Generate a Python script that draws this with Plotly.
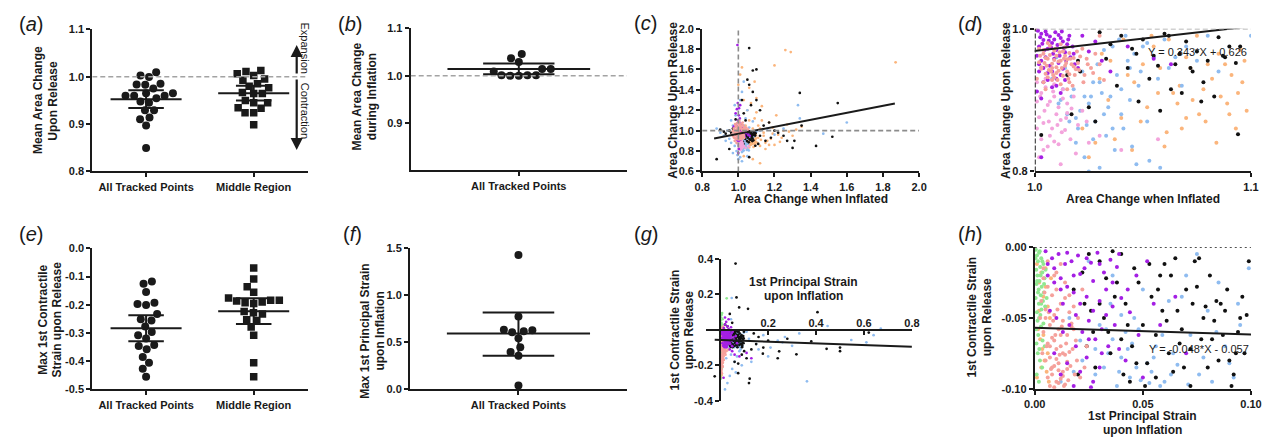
import plotly.graph_objects as go

W, H = 1278, 446
FONT = "Liberation Sans, Arial, Helvetica, sans-serif"
INK = "#1a1a1a"

# ---------------- dot-plot data ----------------
CATS_TWO = ["All Tracked Points", "Middle Region"]
CATS_ONE = ["All Tracked Points"]

# (a) mean area change upon release
A_ALL = [1.0027, 0.9993, 1.0095, 0.9837, 0.9830, 0.9850, 0.9750, 0.9600, 0.9600, 0.9650,
         0.9600, 0.9650, 0.9450, 0.9545, 0.9476, 0.9290, 0.9290, 0.9100, 0.9136, 0.8970, 0.8496]
A_MID = [1.0109, 1.0061, 1.0129, 1.0027, 0.9952, 0.9925, 0.9850, 0.9769, 0.9800, 0.9646,
         0.9646, 0.9667, 0.9497, 0.9450, 0.9450, 0.9347, 0.9333, 0.9238, 0.9238, 0.8986]
A_MEAN = [0.9524, 0.9650]
A_LO = [0.9340, 0.9497]
A_HI = [0.9714, 0.9810]

# (b) mean area change during inflation
B_ALL = [1.037, 1.029, 1.046, 1.014, 1.014, 1.009, 1.001, 1.000, 1.000, 1.001, 1.001]
B_MEAN = [1.014]
B_LO = [1.003]
B_HI = [1.026]

# (e) max 1st contractile strain upon release
E_ALL = [-0.126, -0.118, -0.155, -0.193, -0.201, -0.197, -0.233, -0.251, -0.256, -0.277,
         -0.308, -0.297, -0.320, -0.343, -0.358, -0.346, -0.385, -0.406, -0.427, -0.455]
E_MID = [-0.070, -0.109, -0.136, -0.156, -0.176, -0.184, -0.190, -0.193, -0.187, -0.184,
         -0.196, -0.228, -0.224, -0.233, -0.253, -0.256, -0.279, -0.308, -0.406, -0.455]
E_MEAN = [-0.283, -0.223]
E_LO = [-0.329, -0.268]
E_HI = [-0.237, -0.177]

# (f) max 1st principal strain upon inflation
F_ALL = [1.428, 0.776, 0.617, 0.634, 0.607, 0.628, 0.545, 0.448, 0.397, 0.359, 0.041]
F_MEAN = [0.593]
F_LO = [0.359]
F_HI = [0.817]

# ---------------- area change scatter (c, d): (inflated, released) ----------------
AREA_SALMON = [
    (1.002, 0.972), (1.004, 0.965), (1.006, 0.958), (1.008, 0.951), (1.010, 0.962), (1.012, 0.955),
    (1.014, 0.948), (1.016, 0.966), (1.018, 0.959), (1.003, 0.944), (1.005, 0.937), (1.007, 0.976),
    (1.009, 0.969), (1.011, 0.941), (1.013, 0.934), (1.015, 0.957), (1.017, 0.950), (1.019, 0.943),
    (1.021, 0.961), (1.001, 0.930), (1.004, 0.925), (1.008, 0.928), (1.012, 0.922), (1.016, 0.936),
    (1.006, 0.980), (1.010, 0.946), (1.014, 0.974), (1.002, 0.953), (1.009, 0.932), (1.013, 0.968),
    (1.018, 0.947), (1.007, 0.963), (1.011, 0.954), (1.003, 0.946), (1.015, 0.940), (1.005, 0.959),
    (1.020, 0.952), (1.012, 0.978), (1.008, 0.945), (1.004, 0.970), (1.016, 0.925), (1.010, 0.938),
    (1.006, 0.932), (1.014, 0.962), (1.009, 0.956), (1.024, 0.958), (1.026, 0.945), (1.023, 0.935),
    (1.028, 0.965), (1.022, 0.972),
    (1.0025, 0.962), (1.0045, 0.952), (1.0065, 0.942), (1.0085, 0.935), (1.0105, 0.928), (1.0125, 0.945),
    (1.0145, 0.952), (1.0165, 0.958), (1.0185, 0.935), (1.0205, 0.942), (1.0225, 0.925), (1.0245, 0.950),
    (1.0055, 0.948), (1.0075, 0.940), (1.0095, 0.972), (1.0115, 0.967), (1.0135, 0.958), (1.0155, 0.930),
    (1.0175, 0.920), (1.0195, 0.968), (1.027, 0.938), (1.030, 0.950), (1.032, 0.928), (1.015, 0.915),
    (1.005, 0.915),
    (0.965, 0.960), (0.972, 0.945), (0.978, 0.980), (0.983, 0.925), (0.988, 1.005), (0.992, 0.965),
    (0.996, 0.940), (0.975, 1.020), (0.985, 1.035), (0.994, 0.990), (0.980, 0.900), (0.990, 0.880),
    (0.998, 0.915), (0.970, 0.995), (0.986, 1.050), (1.004, 1.010), (1.010, 1.025), (1.016, 1.040),
    (1.022, 1.005), (1.028, 1.015), (1.034, 1.030), (1.040, 1.002), (1.008, 1.060), (1.018, 1.070),
    (1.026, 1.055), (1.036, 1.020), (1.046, 1.008), (1.054, 1.012), (1.002, 1.085), (1.012, 1.045),
    (1.024, 1.080), (1.032, 1.035), (1.044, 1.030), (0.982, 1.065), (0.993, 1.075), (1.006, 1.095),
    (1.020, 1.018), (1.030, 0.990), (0.976, 0.930), (0.988, 0.955), (0.995, 1.020), (0.998, 1.040),
    (1.000, 1.000), (0.991, 0.985), (0.984, 0.970), (0.997, 0.950), (1.001, 1.030), (1.003, 1.060),
    (0.979, 1.010), (0.987, 0.920),
]
AREA_PINK = [
    (1.001, 0.925), (1.003, 0.910), (1.005, 0.918), (1.007, 0.898), (1.009, 0.905), (1.011, 0.890),
    (1.013, 0.915), (1.015, 0.882), (1.002, 0.876), (1.004, 0.868), (1.006, 0.893), (1.008, 0.860),
    (1.010, 0.880), (1.012, 0.872), (1.014, 0.858), (1.003, 0.845), (1.007, 0.850), (1.011, 0.838),
    (1.001, 0.898), (1.005, 0.930), (1.009, 0.922), (1.013, 0.902), (1.017, 0.888), (1.006, 0.835),
    (1.020, 0.865), (1.025, 0.840), (1.030, 0.850), (1.057, 0.845), (1.040, 0.830), (1.002, 0.820),
    (1.018, 0.905), (1.022, 0.885), (0.995, 0.910), (0.990, 0.940), (0.998, 0.870),
    (1.0025, 0.905), (1.0045, 0.885), (1.0065, 0.870), (1.0085, 0.912), (1.0105, 0.865), (1.0125, 0.855),
    (1.0145, 0.875), (1.0165, 0.845), (1.019, 0.825), (1.004, 0.830), (1.009, 0.842), (1.001, 0.860),
    (1.015, 0.895), (1.024, 0.870), (1.012, 0.810),
]
AREA_PURPLE = [
    (1.001, 0.998), (1.003, 0.993), (1.005, 0.996), (1.007, 0.989), (1.009, 0.985), (1.011, 0.991),
    (1.013, 0.982), (1.015, 0.978), (1.002, 0.975), (1.004, 0.984), (1.006, 0.972), (1.008, 0.980),
    (1.010, 0.970), (1.012, 0.987), (1.014, 0.967), (1.016, 0.990), (1.001, 0.962), (1.003, 0.955),
    (1.005, 0.960), (1.007, 0.948), (1.009, 0.958), (1.011, 0.952), (1.013, 0.944), (1.002, 0.940),
    (1.006, 0.938), (1.010, 0.930), (1.004, 0.925), (1.008, 0.918), (1.012, 0.935), (1.018, 0.965),
    (1.020, 0.945), (1.001, 0.912), (1.003, 0.902), (1.043, 0.975), (1.063, 0.950), (1.055, 0.958),
    (1.028, 0.982), (1.035, 0.940),
    (1.0015, 0.997), (1.0025, 0.988), (1.0035, 0.979), (1.0045, 0.970), (1.0055, 0.992), (1.0065, 0.983),
    (1.0075, 0.974), (1.0085, 0.965), (1.0095, 0.995), (1.0105, 0.977), (1.0115, 0.962), (1.0125, 0.996),
    (1.0135, 0.973), (1.0145, 0.955), (1.0155, 0.985), (1.0165, 0.960), (1.0175, 0.975), (1.0185, 0.950),
    (1.002, 0.950), (1.004, 0.945), (1.006, 0.928), (1.008, 0.940), (1.010, 0.920), (1.012, 0.910),
    (1.014, 0.928), (1.022, 0.990), (1.025, 0.968), (1.031, 0.955),
    (0.995, 1.840), (0.992, 1.210), (0.985, 1.170), (0.998, 1.100), (1.005, 1.080), (1.012, 1.060),
    (1.018, 1.030), (1.008, 1.120), (0.990, 1.050), (1.000, 0.780), (1.003, 0.820), (0.975, 1.040),
    (0.988, 0.960), (0.996, 0.900), (1.002, 1.150), (1.010, 1.250), (0.997, 1.270), (1.004, 1.220),
    (0.999, 1.020), (1.006, 1.010),
]
AREA_BLUE = [
    (1.008, 0.930), (1.012, 0.900), (1.015, 0.880), (1.018, 0.915), (1.020, 0.860), (1.022, 0.940),
    (1.025, 0.895), (1.028, 0.870), (1.030, 0.925), (1.033, 0.850), (1.035, 0.905), (1.038, 0.935),
    (1.040, 0.880), (1.043, 0.955), (1.046, 0.965), (1.050, 0.975), (1.055, 0.960), (1.060, 0.985),
    (1.010, 0.960), (1.014, 0.945), (1.017, 0.905), (1.021, 0.885), (1.024, 0.865), (1.027, 0.845),
    (1.031, 0.910), (1.034, 0.890), (1.037, 0.830), (1.041, 0.860), (1.044, 0.945), (1.048, 0.920),
    (1.052, 0.980), (1.016, 0.870), (1.019, 0.840), (1.023, 0.820), (1.026, 0.905), (1.029, 0.950),
    (1.032, 0.970), (1.036, 0.975), (1.039, 0.985), (1.042, 0.990), (1.011, 0.895), (1.045, 0.835),
    (1.053, 0.815), (1.058, 0.805), (1.065, 0.960), (1.070, 0.975), (1.080, 0.990), (1.030, 0.805),
    (1.025, 0.800), (1.047, 0.810),
    (1.013, 0.915), (1.019, 0.875), (1.023, 0.905), (1.027, 0.925), (1.032, 0.880), (1.036, 0.860),
    (1.040, 0.915), (1.044, 0.900), (1.049, 0.940), (1.052, 0.870), (1.057, 0.930), (1.062, 0.945),
    (1.068, 0.920), (1.075, 0.955), (1.085, 0.940),
    (0.880, 1.020), (0.900, 0.980), (0.920, 0.950), (0.940, 1.000), (0.950, 0.920), (0.960, 0.880),
    (0.970, 1.050), (0.980, 0.850), (0.990, 0.800), (0.930, 0.900), (0.960, 1.100), (0.985, 1.150),
    (0.995, 0.760), (1.000, 0.720), (1.010, 0.740), (1.020, 0.700), (1.030, 1.050), (1.040, 1.120),
    (1.050, 1.200), (1.010, 1.300), (1.020, 1.380), (1.030, 1.480), (0.980, 1.250), (1.330, 1.250),
    (1.340, 1.120), (1.600, 1.080), (1.470, 0.970), (1.200, 0.960), (1.160, 1.020), (1.020, 0.790),
    (1.050, 0.750), (0.970, 0.780), (1.060, 1.030), (1.080, 1.090), (1.120, 1.000), (1.250, 1.020),
    (1.100, 0.990),
]
AREA_ORANGE = [
    (1.022, 0.860), (1.028, 0.840), (1.034, 0.900), (1.040, 0.875), (1.046, 0.925), (1.052, 0.890),
    (1.058, 0.945), (1.064, 0.910), (1.070, 0.960), (1.076, 0.880), (1.082, 0.930), (1.088, 0.950),
    (1.094, 0.910), (1.098, 0.885), (1.025, 0.820), (1.031, 0.965), (1.037, 0.845), (1.043, 0.935),
    (1.049, 0.870), (1.055, 0.975), (1.061, 0.855), (1.067, 0.920), (1.073, 0.900), (1.079, 0.870),
    (1.085, 0.965), (1.091, 0.935), (1.097, 0.955), (1.060, 0.835), (1.066, 0.895), (1.072, 0.945),
    (1.078, 0.915), (1.084, 0.840), (1.090, 0.880), (1.096, 0.925), (1.054, 0.990), (1.062, 0.985),
    (1.086, 0.905), (1.093, 0.860), (1.050, 0.950), (1.080, 0.950), (1.070, 0.875), (1.035, 0.955),
    (1.045, 0.830), (1.095, 0.970), (1.075, 0.990), (1.057, 0.910), (1.089, 0.895), (1.068, 0.860),
    (1.030, 0.930), (1.041, 0.985),
    (1.260, 1.790), (1.290, 1.770), (1.870, 1.670), (1.200, 1.640), (1.020, 1.620), (1.100, 1.320),
    (1.120, 0.680), (1.080, 0.720), (1.030, 0.750), (1.150, 0.880), (1.180, 0.920), (1.220, 0.960),
    (1.250, 1.000), (1.300, 0.950), (1.120, 1.020), (1.140, 0.980), (1.160, 0.900), (1.200, 0.860),
    (1.240, 0.930), (1.280, 0.990), (1.320, 1.010), (1.110, 1.050), (1.130, 1.100), (1.170, 1.080),
    (1.210, 1.150), (1.050, 1.200), (1.070, 1.270), (1.090, 1.120), (1.040, 1.050), (1.060, 1.100),
    (1.080, 1.020), (1.100, 1.180), (1.030, 1.300), (1.120, 0.850), (1.150, 0.820), (1.190, 0.970),
    (1.230, 0.890), (1.350, 1.040), (1.270, 1.060), (1.060, 1.420), (1.090, 1.480), (1.130, 1.240),
    (1.000, 1.450), (1.010, 1.550), (1.110, 0.930), (1.140, 0.950), (1.105, 0.880), (1.125, 0.910),
    (1.170, 0.860), (1.190, 1.030),
]
AREA_BLACK = [
    (1.030, 0.995), (1.035, 0.978), (1.040, 0.990), (1.045, 0.972), (1.050, 0.985), (1.055, 0.962),
    (1.060, 0.993), (1.065, 0.950), (1.070, 0.982), (1.075, 0.968), (1.080, 0.955), (1.085, 0.988),
    (1.090, 0.975), (1.033, 0.958), (1.043, 0.945), (1.053, 0.930), (1.063, 0.915), (1.073, 0.940),
    (1.083, 0.905), (1.093, 0.952), (1.038, 0.920), (1.048, 0.898), (1.058, 0.885), (1.068, 0.910),
    (1.078, 0.925), (1.088, 0.960), (1.015, 0.935), (1.020, 0.955), (1.025, 0.890), (1.028, 0.870),
    (1.047, 0.965), (1.057, 0.948), (1.067, 0.965), (1.077, 0.898), (1.087, 0.962), (1.017, 0.880),
    (1.021, 0.940), (1.095, 0.975), (1.072, 0.945), (1.062, 0.990), (1.094, 0.852), (1.003, 0.851),
    (0.880, 0.720), (1.060, 1.810), (1.080, 1.590), (1.100, 1.600), (1.340, 1.370), (1.550, 1.270),
    (1.430, 0.850), (1.300, 0.830), (1.520, 0.940), (1.310, 0.900), (1.200, 1.000), (1.080, 1.380),
    (1.060, 1.450), (1.050, 1.500), (1.100, 1.300), (1.120, 1.200), (1.070, 1.250), (0.950, 1.000),
    (0.960, 0.980), (0.970, 1.020), (0.930, 0.970), (0.950, 0.820), (1.000, 1.100), (1.120, 0.950),
    (1.150, 0.900), (1.110, 0.870), (1.180, 0.930), (1.220, 0.980), (1.250, 0.950), (1.350, 1.050),
    (1.270, 0.900), (1.060, 0.740), (1.020, 1.300), (1.040, 1.100), (0.900, 1.010), (0.920, 0.990),
    (1.140, 1.050), (1.170, 1.080), (1.030, 1.170), (0.985, 1.110),
]
AREA_FIT = (0.343, 0.626)          # slope, intercept
AREA_FIT_X = [0.866, 1.866]

# ---------------- strain scatter (g, h): (1st principal, 1st contractile) ----------------
STRAIN_GREEN = [
    (0.0005, -0.002), (0.0010, -0.006), (0.0015, -0.010), (0.0020, -0.004), (0.0025, -0.014),
    (0.0030, -0.008), (0.0035, -0.018), (0.0040, -0.012), (0.0045, -0.022), (0.0050, -0.016),
    (0.0008, -0.026), (0.0012, -0.020), (0.0018, -0.030), (0.0022, -0.024), (0.0028, -0.034),
    (0.0032, -0.028), (0.0038, -0.038), (0.0042, -0.032), (0.0048, -0.042), (0.0055, -0.036),
    (0.0010, -0.046), (0.0020, -0.050), (0.0030, -0.040), (0.0040, -0.054), (0.0006, -0.058),
    (0.0016, -0.062), (0.0026, -0.048), (0.0036, -0.066), (0.0046, -0.070), (0.0014, -0.075),
    (0.0024, -0.080), (0.0034, -0.085), (0.0009, -0.090), (0.0019, -0.095),
    (0.0003, -0.008), (0.0007, -0.016), (0.0011, -0.024), (0.0015, -0.032), (0.0019, -0.040),
    (0.0023, -0.003), (0.0027, -0.020), (0.0031, -0.044), (0.0035, -0.010), (0.0004, -0.036),
    (0.0013, -0.052), (0.0029, -0.056), (0.0043, -0.026), (0.0008, -0.068), (0.0021, -0.072),
    (0.001, 0.010), (0.003, 0.025), (0.005, 0.040), (0.002, 0.055), (0.004, 0.070), (0.006, 0.085),
    (0.008, 0.095), (0.010, 0.060), (0.027, 0.178), (0.002, -0.110), (0.004, -0.125), (0.001, -0.140),
    (0.003, -0.155), (0.005, -0.170), (0.002, -0.185), (0.004, -0.200), (0.006, -0.215), (0.001, -0.230),
    (0.003, -0.245), (0.000, -0.260), (0.002, -0.275), (0.007, -0.120), (0.005, 0.015), (0.009, 0.030),
]
STRAIN_ORANGE = [
    (0.001, -0.012), (0.002, -0.025), (0.003, -0.018), (0.004, -0.035), (0.005, -0.028), (0.006, -0.042),
    (0.007, -0.050), (0.0015, -0.058), (0.0025, -0.065), (0.0035, -0.072), (0.0045, -0.080),
    (0.0055, -0.088), (0.0065, -0.095), (0.002, -0.045), (0.004, -0.062), (0.006, -0.075),
    (0.003, -0.085), (0.005, -0.015), (0.0075, -0.022), (0.001, -0.092),
    (0.001, -0.205), (0.002, -0.215), (0.003, -0.225), (0.004, -0.235), (0.005, -0.245), (0.006, -0.255),
    (0.002, -0.265), (0.004, -0.270), (0.003, -0.130), (0.001, -0.160), (0.005, -0.180),
]
STRAIN_SALMON = [
    (0.004, -0.022), (0.006, -0.028), (0.008, -0.034), (0.010, -0.030), (0.012, -0.040), (0.014, -0.036),
    (0.016, -0.046), (0.018, -0.042), (0.005, -0.050), (0.007, -0.055), (0.009, -0.048), (0.011, -0.058),
    (0.013, -0.052), (0.015, -0.062), (0.017, -0.056), (0.019, -0.066), (0.004, -0.060), (0.006, -0.068),
    (0.008, -0.064), (0.010, -0.072), (0.012, -0.070), (0.014, -0.076), (0.016, -0.074), (0.005, -0.080),
    (0.007, -0.078), (0.009, -0.084), (0.011, -0.082), (0.013, -0.088), (0.015, -0.086), (0.006, -0.092),
    (0.008, -0.090), (0.010, -0.095), (0.012, -0.093), (0.014, -0.097), (0.007, -0.098), (0.009, -0.099),
    (0.011, -0.096), (0.013, -0.091), (0.008, -0.085), (0.010, -0.079), (0.012, -0.062), (0.003, -0.038),
    (0.005, -0.044), (0.007, -0.070), (0.009, -0.066), (0.011, -0.087), (0.013, -0.075), (0.015, -0.081),
    (0.017, -0.054), (0.020, -0.050), (0.022, -0.030), (0.024, -0.070), (0.004, -0.015), (0.006, -0.010),
    (0.010, -0.018), (0.014, -0.025), (0.018, -0.058), (0.009, -0.020), (0.012, -0.012), (0.016, -0.034),
    (0.0045, -0.032), (0.0065, -0.046), (0.0085, -0.052), (0.0105, -0.044), (0.0125, -0.056),
    (0.0145, -0.068), (0.0165, -0.084), (0.0185, -0.090), (0.0055, -0.070), (0.0075, -0.086),
    (0.0095, -0.062), (0.0115, -0.076), (0.0135, -0.098), (0.0155, -0.094), (0.0175, -0.072),
    (0.0195, -0.080), (0.021, -0.092), (0.023, -0.085), (0.0035, -0.075), (0.0025, -0.050),
    (0.004, -0.105), (0.006, -0.112), (0.008, -0.118), (0.010, -0.125), (0.012, -0.132), (0.014, -0.108),
    (0.016, -0.115), (0.018, -0.122), (0.020, -0.110), (0.005, -0.140), (0.007, -0.148), (0.009, -0.155),
    (0.011, -0.138), (0.013, -0.145), (0.015, -0.128), (0.003, -0.160), (0.006, -0.168), (0.009, -0.175),
    (0.012, -0.162), (0.004, -0.182), (0.008, -0.190), (0.011, -0.185), (0.005, -0.198), (0.010, -0.205),
    (0.002, -0.215), (0.006, -0.225), (0.010, -0.210), (0.014, -0.150), (0.020, -0.130), (0.025, -0.120),
    (0.030, -0.115), (0.035, -0.108), (0.004, 0.005), (0.008, 0.012), (0.012, 0.018), (0.016, 0.008),
    (0.003, -0.235), (0.007, -0.245), (0.015, -0.170), (0.022, -0.140),
]
STRAIN_PURPLE = [
    (0.005, -0.003), (0.008, -0.008), (0.011, -0.005), (0.014, -0.012), (0.017, -0.010), (0.020, -0.006),
    (0.023, -0.015), (0.026, -0.011), (0.029, -0.004), (0.032, -0.018), (0.035, -0.009), (0.038, -0.014),
    (0.006, -0.020), (0.009, -0.025), (0.012, -0.022), (0.015, -0.028), (0.018, -0.032), (0.021, -0.019),
    (0.024, -0.035), (0.027, -0.024), (0.030, -0.038), (0.033, -0.030), (0.036, -0.042), (0.040, -0.036),
    (0.007, -0.045), (0.010, -0.050), (0.013, -0.040), (0.016, -0.055), (0.019, -0.048), (0.022, -0.060),
    (0.025, -0.052), (0.028, -0.065), (0.031, -0.058), (0.034, -0.070), (0.044, -0.046), (0.048, -0.062),
    (0.009, -0.075), (0.015, -0.082), (0.021, -0.088), (0.027, -0.095), (0.018, -0.098), (0.024, -0.078),
    (0.030, -0.085), (0.012, -0.090), (0.039, -0.072), (0.042, -0.080), (0.055, -0.040), (0.058, -0.055),
    (0.065, -0.035), (0.070, -0.075), (0.050, -0.092), (0.026, -0.099),
    (0.006, -0.012), (0.009, -0.015), (0.012, -0.030), (0.015, -0.004), (0.018, -0.020), (0.021, -0.040),
    (0.024, -0.008), (0.027, -0.045), (0.030, -0.012), (0.033, -0.048), (0.036, -0.025), (0.039, -0.005),
    (0.013, -0.060), (0.019, -0.070), (0.025, -0.065), (0.031, -0.075), (0.037, -0.055), (0.043, -0.030),
    (0.047, -0.020), (0.052, -0.010),
    (0.015, 0.010), (0.020, 0.030), (0.025, 0.045), (0.030, 0.020), (0.035, 0.060), (0.045, 0.015),
    (0.050, -0.120), (0.060, -0.140), (0.080, -0.150), (0.110, -0.130), (0.130, -0.160), (0.014, -0.270),
    (0.040, -0.110), (0.020, 0.070), (0.035, 0.005),
]
STRAIN_BLUE = [
    (0.012, -0.095), (0.018, -0.088), (0.022, -0.080), (0.028, -0.072), (0.032, -0.085), (0.036, -0.065),
    (0.040, -0.078), (0.044, -0.092), (0.048, -0.058), (0.052, -0.082), (0.056, -0.070), (0.060, -0.095),
    (0.064, -0.075), (0.068, -0.035), (0.072, -0.062), (0.076, -0.090), (0.080, -0.045), (0.085, -0.025),
    (0.090, -0.082), (0.095, -0.055), (0.099, -0.015), (0.025, -0.010), (0.030, -0.055), (0.035, -0.040),
    (0.038, -0.098), (0.042, -0.060), (0.046, -0.050), (0.050, -0.030), (0.054, -0.088), (0.058, -0.098),
    (0.045, -0.068), (0.040, -0.048), (0.036, -0.020), (0.033, -0.058), (0.028, -0.090), (0.047, -0.085),
    (0.053, -0.096), (0.062, -0.038), (0.075, -0.005), (0.088, -0.070), (0.094, -0.040), (0.082, -0.095),
    (0.070, -0.020), (0.021, -0.066), (0.016, -0.050),
    (0.034, -0.075), (0.039, -0.088), (0.043, -0.072), (0.049, -0.094), (0.055, -0.078), (0.059, -0.062),
    (0.063, -0.090), (0.066, -0.083), (0.071, -0.097), (0.078, -0.078), (0.084, -0.060), (0.092, -0.092),
    (0.020, -0.336), (0.030, -0.300), (0.040, -0.260), (0.050, -0.220), (0.060, -0.180), (0.070, -0.150),
    (0.080, -0.120), (0.090, -0.200), (0.025, -0.160), (0.045, -0.140), (0.065, -0.240), (0.085, -0.110),
    (0.048, 0.180), (0.120, -0.050), (0.150, -0.080), (0.180, -0.030), (0.210, -0.100), (0.240, -0.060),
    (0.270, -0.040), (0.300, -0.090), (0.330, -0.020), (0.362, -0.290), (0.448, 0.022), (0.547, -0.057),
    (0.610, -0.070), (0.640, -0.030), (0.670, 0.007), (0.200, -0.150), (0.160, -0.110), (0.130, -0.180),
    (0.260, -0.070), (0.110, -0.010), (0.030, 0.020), (0.045, 0.060),
]
STRAIN_BLACK = [
    (0.018, -0.030), (0.022, -0.018), (0.026, -0.045), (0.030, -0.010), (0.034, -0.060), (0.038, -0.025),
    (0.042, -0.040), (0.046, -0.015), (0.050, -0.055), (0.054, -0.035), (0.058, -0.020), (0.062, -0.075),
    (0.066, -0.045), (0.070, -0.030), (0.074, -0.010), (0.078, -0.050), (0.082, -0.065), (0.086, -0.040),
    (0.090, -0.080), (0.094, -0.060), (0.098, -0.048), (0.020, -0.090), (0.024, -0.070), (0.028, -0.085),
    (0.032, -0.050), (0.036, -0.003), (0.040, -0.065), (0.044, -0.095), (0.048, -0.025), (0.052, -0.082),
    (0.056, -0.092), (0.060, -0.012), (0.064, -0.088), (0.068, -0.058), (0.072, -0.098), (0.076, -0.008),
    (0.080, -0.085), (0.084, -0.038), (0.088, -0.045), (0.092, -0.090), (0.096, -0.035), (0.035, -0.075),
    (0.043, -0.055), (0.051, -0.098), (0.059, -0.045), (0.067, -0.068), (0.075, -0.028), (0.083, -0.052),
    (0.091, -0.098), (0.099, -0.010), (0.040, -0.005), (0.056, -0.062), (0.072, -0.072), (0.030, -0.040),
    (0.063, -0.020), (0.093, -0.075), (0.087, -0.062), (0.079, -0.042),
    (0.025, -0.005), (0.033, -0.022), (0.037, -0.035), (0.045, -0.070), (0.053, -0.012), (0.057, -0.030),
    (0.061, -0.052), (0.065, -0.008), (0.069, -0.085), (0.073, -0.040), (0.077, -0.065), (0.081, -0.020),
    (0.085, -0.080), (0.089, -0.030), (0.095, -0.050), (0.097, -0.075), (0.047, -0.082), (0.041, -0.090),
    (0.027, -0.060), (0.023, -0.040),
    (0.064, 0.374), (0.068, 0.183), (0.079, 0.127), (0.116, 0.119), (0.406, 0.100), (0.040, 0.090),
    (0.444, -0.107), (0.500, -0.120), (0.500, -0.100), (0.318, -0.138), (0.246, -0.121), (0.240, -0.160),
    (0.178, -0.134), (-0.023, -0.262), (0.075, -0.244), (0.075, -0.190), (0.123, -0.275), (0.120, -0.300),
    (0.150, -0.080), (0.200, -0.060), (0.130, -0.110), (0.100, -0.120), (0.110, -0.160), (0.160, -0.040),
    (0.140, -0.020), (0.180, -0.100), (0.090, -0.140), (0.060, -0.180), (0.030, 0.020), (0.620, -0.015),
    (0.050, 0.040), (0.020, 0.030), (0.280, -0.050), (0.380, -0.065),
]
STRAIN_FIT = (-0.048, -0.057)
STRAIN_FIT_X = [-0.023, 0.8]

# ---------------- styling ----------------
COL = {
    "salmon": "#f5a19b", "pink": "#f3a4dc", "purple": "#a41fe4", "blue": "#8fbcf0",
    "orange": "#fbb57c", "green": "#90e890", "black": "#111111",
}

# panel boxes in page pixels: (left, right), (top, bottom)
BOX = {
    "a": ((82.7, 301.7), (24.0, 170.0)),
    "b": ((406.7, 626.7), (23.0, 169.0)),
    "c": ((703.3, 924.0), (23.3, 170.0)),
    "d": ((1041.7, 1261.7), (23.3, 170.0)),
    "e": ((82.7, 301.7), (249.0, 394.0)),
    "f": ((406.0, 626.7), (249.0, 394.0)),
    "g": ((707.0, 916.7), (260.0, 405.7)),
    "h": ((1041.7, 1261.7), (247.7, 393.3)),
}
IDX = {k: i + 1 for i, k in enumerate("abcdefgh")}
DOT_SIZE = {"c": 2.7, "d": 4.0, "g": 2.7, "h": 4.0}


def xdom(p):
    l, r = BOX[p][0]
    return [l / W, r / W]


def ydom(p):
    t, b = BOX[p][1]
    return [1 - b / H, 1 - t / H]


def axn(p):
    i = IDX[p]
    return ("x" if i == 1 else f"x{i}"), ("y" if i == 1 else f"y{i}")


fig = go.Figure()


def swarm_offsets(values, y_px, x_px, gap):
    """Beeswarm layout: horizontal offsets (axis units) so markers do not overlap."""
    order = sorted(range(len(values)), key=lambda i: values[i])
    placed = []
    out = [0.0] * len(values)
    for i in order:
        yp = values[i] * y_px
        cands = [0.0]
        for xp, yq in placed:
            dy = abs(yq - yp)
            if dy < gap:
                dx = (gap * gap - dy * dy) ** 0.5
                cands.extend([xp + dx, xp - dx])
        cands.sort(key=lambda c: (abs(c), c))
        chosen = cands[-1]
        for c in cands:
            if all((c - xp) ** 2 + (yp - yq) ** 2 >= gap * gap - 1e-6 for xp, yq in placed):
                chosen = c
                break
        placed.append((chosen, yp))
        out[i] = chosen / x_px
    return out


def dot_panel(p, groups, symbols, mean, lo, hi, xr, yr):
    xa, ya = axn(p)
    (l, r), (t, b) = BOX[p]
    x_px = (r - l) / (xr[1] - xr[0])
    y_px = (b - t) / (yr[1] - yr[0])
    for gi, vals in enumerate(groups):
        offs = swarm_offsets(vals, y_px, x_px, 8.8)
        fig.add_trace(go.Scatter(
            x=[gi + o for o in offs], y=vals, mode="markers", xaxis=xa, yaxis=ya,
            marker=dict(symbol=symbols[gi], size=8 if symbols[gi] == "circle" else 7.5,
                        color=INK, line=dict(width=0)),
            hoverinfo="skip"))
    xs, ys = [], []
    for gi in range(len(groups)):
        for half, yv in ((0.33, mean[gi]), (0.165, lo[gi]), (0.165, hi[gi])):
            xs += [gi - half, gi + half, None]
            ys += [yv, yv, None]
        xs += [gi, gi, None]
        ys += [lo[gi], hi[gi], None]
    fig.add_trace(go.Scatter(x=xs, y=ys, mode="lines", xaxis=xa, yaxis=ya,
                             line=dict(color=INK, width=2), hoverinfo="skip"))


dot_panel("a", [A_ALL, A_MID], ["circle", "square"], A_MEAN, A_LO, A_HI, [-0.5, 1.5], [0.8, 1.1])
dot_panel("b", [B_ALL], ["circle"], B_MEAN, B_LO, B_HI, [-0.5, 0.5], [0.8, 1.1])
dot_panel("e", [E_ALL, E_MID], ["circle", "square"], E_MEAN, E_LO, E_HI, [-0.5, 1.5], [-0.5, 0.0])
dot_panel("f", [F_ALL], ["circle"], F_MEAN, F_LO, F_HI, [-0.5, 0.5], [0.0, 1.5])


def cloud(panels, groups, fit, fit_x):
    for name, pts in groups:
        xs = [q[0] for q in pts]
        ys = [q[1] for q in pts]
        for p in panels:
            xa, ya = axn(p)
            fig.add_trace(go.Scatter(x=xs, y=ys, mode="markers", xaxis=xa, yaxis=ya,
                                     marker=dict(size=DOT_SIZE[p], color=COL[name], line=dict(width=0)),
                                     hoverinfo="skip"))
    slope, icpt = fit
    for p in panels:
        xa, ya = axn(p)
        fig.add_trace(go.Scatter(x=fit_x, y=[slope * v + icpt for v in fit_x], mode="lines",
                                 xaxis=xa, yaxis=ya, line=dict(color=INK, width=2),
                                 hoverinfo="skip"))


cloud(["c", "d"], [("orange", AREA_ORANGE), ("blue", AREA_BLUE), ("black", AREA_BLACK),
                   ("pink", AREA_PINK), ("purple", AREA_PURPLE), ("salmon", AREA_SALMON)],
      AREA_FIT, AREA_FIT_X)
cloud(["g", "h"], [("orange", STRAIN_ORANGE), ("blue", STRAIN_BLUE), ("black", STRAIN_BLACK),
                   ("green", STRAIN_GREEN), ("salmon", STRAIN_SALMON), ("purple", STRAIN_PURPLE)],
      STRAIN_FIT, STRAIN_FIT_X)

# ---------------- axes ----------------
TICKFONT = dict(family=FONT, size=11, color=INK, weight="bold")
BASE = dict(showgrid=False, zeroline=False, showline=True, linecolor=INK, linewidth=2,
            ticks="outside", ticklen=4, tickwidth=2, tickcolor=INK, tickfont=TICKFONT,
            fixedrange=True)


def set_axes(p, xkw, ykw):
    i = IDX[p]
    xa, ya = axn(p)
    xname = "xaxis" if i == 1 else f"xaxis{i}"
    yname = "yaxis" if i == 1 else f"yaxis{i}"
    xd = dict(BASE, domain=xdom(p), anchor=ya)
    xd.update(xkw)
    yd = dict(BASE, domain=ydom(p), anchor=xa)
    yd.update(ykw)
    fig.update_layout(**{xname: xd, yname: yd})


def labels(vals, fmt):
    return [fmt.format(v) for v in vals]


set_axes("a", dict(range=[-0.5, 1.5], tickvals=[0, 1], ticktext=CATS_TWO),
         dict(range=[0.8, 1.1], tickvals=[0.8, 0.9, 1.0, 1.1], ticktext=labels([0.8, 0.9, 1.0, 1.1], "{:.1f}")))
set_axes("b", dict(range=[-0.5, 0.5], tickvals=[0], ticktext=CATS_ONE),
         dict(range=[0.8, 1.1], tickvals=[0.9, 1.0, 1.1], ticktext=labels([0.9, 1.0, 1.1], "{:.1f}")))
C_X = [0.8, 1.0, 1.2, 1.4, 1.6, 1.8, 2.0]
C_Y = [0.6, 0.8, 1.0, 1.2, 1.4, 1.6, 1.8, 2.0]
set_axes("c", dict(range=[0.8, 2.0], tickvals=C_X, ticktext=labels(C_X, "{:.1f}")),
         dict(range=[0.6, 2.0], tickvals=C_Y, ticktext=labels(C_Y, "{:.1f}")))
set_axes("d", dict(range=[1.0, 1.1], tickvals=[1.0, 1.1], ticktext=["1.0", "1.1"]),
         dict(range=[0.8, 1.0], tickvals=[0.8, 1.0], ticktext=["0.8", "1.0"], showline=False))
E_Y = [-0.5, -0.4, -0.3, -0.2, -0.1, 0.0]
set_axes("e", dict(range=[-0.5, 1.5], tickvals=[0, 1], ticktext=CATS_TWO),
         dict(range=[-0.5, 0.0], tickvals=E_Y, ticktext=labels(E_Y, "{:.1f}")))
F_Y = [0.0, 0.5, 1.0, 1.5]
set_axes("f", dict(range=[-0.5, 0.5], tickvals=[0], ticktext=CATS_ONE),
         dict(range=[0.0, 1.5], tickvals=F_Y, ticktext=labels(F_Y, "{:.1f}")))
G_X = [0.2, 0.4, 0.6, 0.8]
G_Y = [-0.4, -0.2, 0.2, 0.4]
G_XR = [-0.06, 0.8]
g_zero_y = 1 - ((BOX["g"][1][0] + BOX["g"][1][1]) / 2) / H
g_zero_x = (BOX["g"][0][0] + (0 - G_XR[0]) / (G_XR[1] - G_XR[0]) * (BOX["g"][0][1] - BOX["g"][0][0])) / W
set_axes("g", dict(range=G_XR, tickvals=G_X, ticktext=labels(G_X, "{:.1f}"),
                   anchor="free", position=g_zero_y, side="top", ticks="inside",
                   ticklabelstandoff=-3),
         dict(range=[-0.4, 0.4], tickvals=G_Y, ticktext=labels(G_Y, "{:.1f}"),
              anchor="free", position=g_zero_x))
H_X = [0.0, 0.05, 0.10]
H_Y = [-0.10, -0.05, 0.0]
set_axes("h", dict(range=[0.0, 0.1], tickvals=H_X, ticktext=labels(H_X, "{:.2f}")),
         dict(range=[-0.1, 0.0], tickvals=H_Y, ticktext=labels(H_Y, "{:.2f}")))

# ---------------- reference lines ----------------
GREY = "#a3a3a3"
shapes = []


def hline(p, y, x0, x1, color, dash, width=1.6):
    xa, ya = axn(p)
    shapes.append(dict(type="line", xref=xa, yref=ya, x0=x0, x1=x1, y0=y, y1=y,
                       line=dict(color=color, width=width, dash=dash), layer="above"))


def vline(p, x, y0, y1, color, dash, width=1.6):
    xa, ya = axn(p)
    shapes.append(dict(type="line", xref=xa, yref=ya, x0=x, x1=x, y0=y0, y1=y1,
                       line=dict(color=color, width=width, dash=dash), layer="above"))


hline("a", 1.0, -0.5, 1.5, GREY, "5px,3px")
hline("b", 1.0, -0.5, 0.5, GREY, "5px,3px")
hline("c", 1.0, 0.8, 2.0, "#8c8c8c", "5px,3px")
vline("c", 1.0, 0.6, 2.0, "#8c8c8c", "5px,3px")
hline("d", 1.0, 1.0, 1.1, GREY, "5px,3px")
vline("d", 1.0, 0.8, 1.0, "#3a3a3a", "5px,2px", width=2.2)
hline("h", 0.0, 0.0, 0.1, INK, "2px,3px", width=1.6)
fig.update_layout(shapes=shapes)

# ---------------- text ----------------
ann = []


def px_text(x, y, text, size=12, bold=True, angle=0, xanchor="center"):
    ann.append(dict(x=x / W, y=1 - y / H, xref="paper", yref="paper", text=text, showarrow=False,
                    textangle=angle, xanchor=xanchor, yanchor="middle",
                    font=dict(family=FONT, size=size, color=INK, weight="bold" if bold else "normal")))


def title(x, y, lines, angle=0, gap=15.0):
    n = len(lines)
    for k, line in enumerate(lines):
        shift = (k - (n - 1) / 2) * gap
        if angle:
            px_text(x + shift, y, line, angle=angle)
        else:
            px_text(x, y + shift, line)


for letter, (lx, ly) in {"a": (6, 19), "b": (331, 18), "c": (632, 17), "d": (962, 18),
                         "e": (6, 234), "f": (336, 234), "g": (632, 234), "h": (962, 234)}.items():
    px_text(lx, ly, f"(<i>{letter}</i>)", size=20, bold=False, xanchor="left")

title(35.5, 97, ["Mean Area Change", "Upon Release"], angle=-90)
title(360.5, 93, ["Mean Area Change", "during Inflation"], angle=-90)
title(674, 97, ["Area Change Upon Release"], angle=-90)
title(813.7, 198, ["Area Change when Inflated"])
title(1013, 97, ["Area Change Upon Release"], angle=-90)
title(1151.7, 198, ["Area Change when Inflated"])
title(40, 322, ["Max 1st Contractile", "Strain upon Release"], angle=-90, gap=14)
title(367.5, 334, ["Max 1st Principal Strain", "upon Inflation"], angle=-90)
title(683, 333, ["1st Contractile Strain", "upon Release"], angle=-90, gap=14)
title(806.7, 290.8, ["1st Principal Strain", "upon Inflation"])
title(985.5, 320, ["1st Contractile Strain", "upon Release"], angle=-90)
title(1151.7, 428.5, ["1st Principal Strain", "upon Inflation"], gap=13.5)

slope, icpt = AREA_FIT
px_text(1207, 47, f"Y = {slope:.3f}*X + {icpt:.3f}", size=11, bold=False)
slope, icpt = STRAIN_FIT
px_text(1209, 352, f"Y = {slope:.3f}*X - {abs(icpt):.3f}", size=11, bold=False)

px_text(299.5, 43, "Expansion", size=11, bold=False, angle=90)
px_text(299.5, 108, "Contraction", size=11, bold=False, angle=90)
for (hx, hy, ay) in ((290.7, 40, 30), (290.7, 148, -72)):
    ann.append(dict(x=hx / W, y=1 - hy / H, xref="paper", yref="paper", text="", showarrow=True,
                    ax=0, ay=ay, arrowhead=2, arrowsize=1.1, arrowwidth=2.2, arrowcolor=INK,
                    standoff=0, startstandoff=0))

fig.update_layout(annotations=ann)

fig.update_layout(width=W, height=H, autosize=False, margin=dict(l=0, r=0, t=0, b=0),
                  paper_bgcolor="white", plot_bgcolor="white", showlegend=False,
                  font=dict(family=FONT, color=INK))

fig.write_html("out.html", config={"displayModeBar": False})
